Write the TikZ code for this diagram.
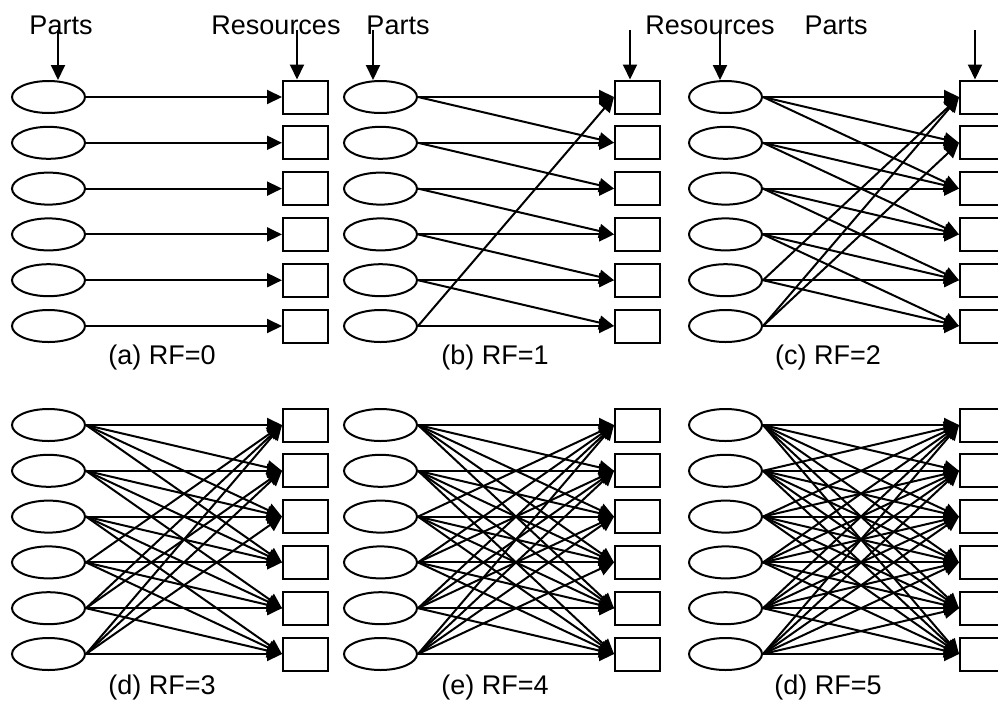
\documentclass[tikz,border=0pt]{standalone}
\usepackage{fontspec}
\setmainfont{Liberation Sans}
\usetikzlibrary{arrows.meta,
                calc,
                shapes.geometric}

\begin{document}
\begin{tikzpicture}[
			x=1pt, y=-1pt,
			line width=2pt,
			part/.style = {ellipse, draw, minimum width=73pt, minimum height=32pt, inner sep=0pt},
			res/.style = {rectangle, draw, minimum width=45pt, minimum height=33pt, inner sep=0pt},
			note/.style = {font=\fontsize{27}{31}\selectfont, inner sep=0pt},
			link/.style = {-{Triangle[length=15pt,width=14pt]}},
			]
			\useasboundingbox (0,0) rectangle (998,707);
			% panels: name / x shift / y shift / RF / caption x
			\foreach \pan/\dx/\dy/\rf/\cx in {a/0/0/0/162, b/332/0/1/495, c/677/0/2/828,
			                                 d/0/328/3/162, e/332/328/4/495, f/677/328/5/828} {
				% parts and resources
				\foreach \i in {1,...,6} {
					\node[part] (\pan-p\i) at ({\dx+48.5}, {\dy+97+45.8*(\i-1)}) {};
					\node[res] (\pan-r\i) at ({\dx+305.5}, {\dy+97+45.8*(\i-1)}) {};
				}
				% edges
				\foreach \i in {1,...,6} {
					\foreach \k in {0,...,\rf} {
						\pgfmathtruncatemacro\j{mod(\i-1+\k,6)+1}
						\draw[link] (\pan-p\i.east) -- (\pan-r\j.west);
					}
				}
			}
			% captions
			\node[note] (cap-a) at (162,358) {(a) RF=0};
			\node[note] (cap-b) at (495,358) {(b) RF=1};
			\node[note] (cap-c) at (828,358) {(c) RF=2};
			\node[note] (cap-d) at (162,688) {(d) RF=3};
			\node[note] (cap-e) at (495,688) {(e) RF=4};
			\node[note] (cap-f) at (828,688) {(d) RF=5};
			% notes
			\node[note] (parts-a) at (61,25) {Parts};
			\node[note] (res-a) at (276,25) {Resources};
			\node[note] (parts-b) at (398,25) {Parts};
			\node[note] (res-b) at (710,25) {Resources};
			\node[note] (parts-c) at (836,25) {Parts};
			\coordinate (ha1) at (58,30);
			\coordinate (ha2) at (297,30);
			\coordinate (hb1) at (373,30);
			\coordinate (hb2) at (630,30);
			\coordinate (hc1) at (720,30);
			\coordinate (hc2) at (975,30);
			\draw[link] (ha1) -- (ha1 |- a-p1.north);
			\draw[link] (ha2) -- (ha2 |- a-r1.north);
			\draw[link] (hb1) -- (hb1 |- b-p1.north);
			\draw[link] (hb2) -- (hb2 |- b-r1.north);
			\draw[link] (hc1) -- (hc1 |- c-p1.north);
			\draw[link] (hc2) -- (hc2 |- c-r1.north);
		\end{tikzpicture}
\end{document}
